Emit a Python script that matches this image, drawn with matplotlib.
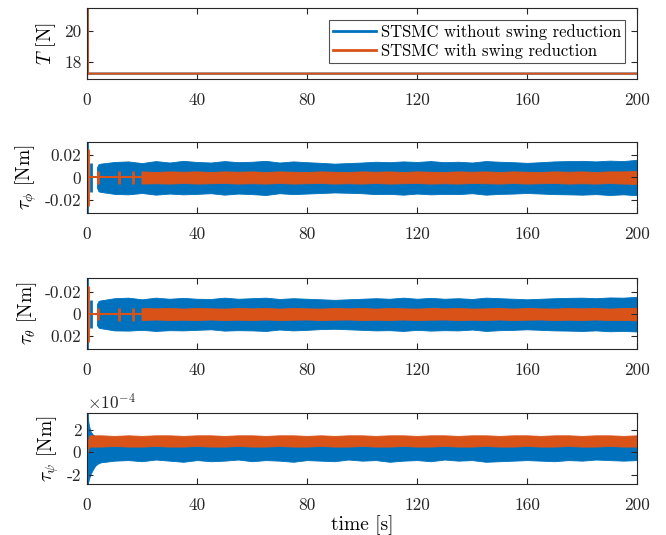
import matplotlib
matplotlib.use("Agg")
import matplotlib.pyplot as plt
import numpy as np

plt.rcParams['font.family'] = ['cmr10', 'DejaVu Serif']
plt.rcParams['mathtext.fontset'] = 'cm'
plt.rcParams['axes.unicode_minus'] = False
plt.rcParams['axes.formatter.use_mathtext'] = True

BLUE = '#0072BD'
ORANGE = '#D95319'

# ---------------- data ----------------
# Panel 1: thrust T [N]
t_T = [0, 0.15, 0.35, 200]
T_without = [16.95, 21.5, 17.25, 17.25]
T_with = [16.95, 21.5, 17.25, 17.25]

# common envelope time grid (s)
t_env = [5, 10, 15, 20, 25, 30, 35, 40, 45, 50, 55, 60, 65, 70, 75, 80, 85, 90, 95, 100,
         105, 110, 115, 120, 125, 130, 135, 140, 145, 150, 155, 160, 165, 170, 175, 180,
         185, 190, 195, 200]

# Panel 2: tau_phi [Nm]
phi_blue_t = [3.6, 4.2] + t_env
phi_blue_hi = [0.009, 0.012, 0.0125, 0.014, 0.0145, 0.013, 0.0148, 0.0135, 0.015, 0.014, 0.0135,
               0.0148, 0.0138, 0.0142, 0.015, 0.0135, 0.0145, 0.0138, 0.0132, 0.0125, 0.013,
               0.0135, 0.0142, 0.0138, 0.0145, 0.014, 0.0148, 0.0138, 0.0142, 0.0135, 0.0148,
               0.0142, 0.0138, 0.0132, 0.0138, 0.0145, 0.0148, 0.015, 0.0145, 0.0152, 0.0148, 0.016]
phi_blue_lo = [-0.009, -0.0125, -0.013, -0.0148, -0.0152, -0.014, -0.0155, -0.0145, -0.0152, -0.0148,
               -0.0142, -0.0155, -0.0145, -0.015, -0.0158, -0.0142, -0.015, -0.0145, -0.014, -0.0135,
               -0.0138, -0.0142, -0.015, -0.0148, -0.0155, -0.0145, -0.0152, -0.0148, -0.015, -0.0142,
               -0.0155, -0.0148, -0.0145, -0.014, -0.0145, -0.015, -0.0152, -0.0155, -0.015, -0.0158,
               -0.0152, -0.016]
phi_blue_spk_t = [0.1, 1.6]
phi_blue_spk_lo = [-0.034, -0.013]
phi_blue_spk_hi = [0.034, 0.013]
phi_or_base_t = [0, 20]
phi_or_base = [0, 0]
phi_or_spk_t = [0.3, 4.0, 11.6, 16.6]
phi_or_spk_lo = [-0.026, -0.0055, -0.006, -0.006]
phi_or_spk_hi = [0.026, 0.0055, 0.0055, 0.0055]
phi_or_t = [19.8] + t_env[3:]
phi_or_hi = [0.005, 0.0055, 0.005, 0.0055, 0.0052, 0.0055, 0.005, 0.0055, 0.0052, 0.0055, 0.005,
             0.0055, 0.0052, 0.005, 0.0055, 0.0052, 0.005, 0.0055, 0.0052, 0.0055, 0.005, 0.0055,
             0.0052, 0.005, 0.0055, 0.0052, 0.0055, 0.005, 0.0055, 0.0052, 0.005, 0.0055, 0.0052,
             0.0055, 0.005, 0.0055, 0.0055, 0.0058]
phi_or_lo = [-0.005, -0.0055, -0.0052, -0.0055, -0.005, -0.0055, -0.0052, -0.005, -0.0055, -0.0052,
             -0.0055, -0.005, -0.0055, -0.0052, -0.005, -0.0055, -0.0052, -0.0055, -0.005, -0.0055,
             -0.0052, -0.005, -0.0055, -0.0052, -0.0055, -0.005, -0.0052, -0.0055, -0.005, -0.0055,
             -0.0052, -0.005, -0.0055, -0.0052, -0.0055, -0.005, -0.0055, -0.0058]

# Panel 3: tau_theta [Nm] (axis reversed)
th_blue_t = [3.6, 4.2] + t_env
th_blue_hi = [0.010, 0.0125, 0.013, 0.015, 0.0152, 0.0145, 0.0155, 0.0148, 0.015, 0.0145, 0.014,
              0.0152, 0.0148, 0.015, 0.0155, 0.0142, 0.015, 0.0145, 0.0138, 0.0135, 0.014, 0.0145,
              0.015, 0.0148, 0.0155, 0.0145, 0.0152, 0.0148, 0.015, 0.0142, 0.0155, 0.0148, 0.0145,
              0.014, 0.0145, 0.015, 0.0152, 0.0155, 0.015, 0.0158, 0.0155, 0.016]
th_blue_lo = [-0.009, -0.012, -0.0125, -0.0145, -0.015, -0.0135, -0.015, -0.014, -0.0148, -0.014,
              -0.0138, -0.015, -0.014, -0.0145, -0.015, -0.0138, -0.0145, -0.014, -0.0135, -0.013,
              -0.0135, -0.014, -0.0145, -0.014, -0.015, -0.014, -0.0148, -0.014, -0.0145, -0.0138,
              -0.015, -0.0145, -0.014, -0.0135, -0.014, -0.0145, -0.0148, -0.015, -0.0145, -0.0152,
              -0.015, -0.0158]
th_blue_spk_t = [0.1, 1.6]
th_blue_spk_lo = [-0.034, -0.013]
th_blue_spk_hi = [0.034, 0.013]
th_or_base_t = [0, 20]
th_or_base = [0, 0]
th_or_spk_t = [0.3, 4.0, 11.6, 16.6]
th_or_spk_lo = [-0.026, -0.0055, -0.0055, -0.0055]
th_or_spk_hi = [0.026, 0.0055, 0.006, 0.006]
th_or_t = [19.8] + t_env[3:]
th_or_hi = phi_or_hi[:]
th_or_lo = phi_or_lo[:]

# Panel 4: tau_psi [Nm], in units of 1e-4
psi_blue_t = [0.3, 0.7, 1.2, 2.0, 3.0, 4.0] + t_env
psi_blue_hi = [3.0, 2.4, 1.9, 1.6, 1.4, 0.8, 0.6, 0.6, 0.6, 0.6, 0.6, 0.6, 0.6, 0.6, 0.6, 0.6, 0.6,
               0.6, 0.6, 0.6, 0.6, 0.6, 0.6, 0.6, 0.6, 0.6, 0.6, 0.6, 0.6, 0.6, 0.6, 0.6, 0.6, 0.6,
               0.6, 0.6, 0.6, 0.6, 0.6, 0.6, 0.6, 0.6, 0.6, 0.6, 0.6, 0.6]
psi_blue_lo = [-2.8, -2.4, -2.0, -1.6, -1.2, -1.0, -0.9, -0.75, -0.7, -0.8, -0.65, -0.75, -0.85, -0.7,
               -0.8, -0.75, -0.65, -0.8, -0.7, -0.75, -0.85, -0.7, -0.75, -0.8, -0.65, -0.75, -0.7,
               -0.85, -0.75, -0.7, -0.8, -0.65, -0.75, -0.7, -0.85, -0.8, -0.75, -0.7, -0.75, -0.8,
               -0.7, -0.75, -0.65, -0.7, -0.75, -0.7]
psi_blue_spk_t = [0.15]
psi_blue_spk_lo = [-2.9]
psi_blue_spk_hi = [3.5]
psi_or_t = [0.4, 1.0] + t_env
psi_or_hi = [1.3, 1.5, 1.5, 1.45, 1.5, 1.45, 1.5, 1.5, 1.45, 1.5, 1.5, 1.45, 1.5, 1.5, 1.45, 1.5,
             1.5, 1.45, 1.5, 1.45, 1.5, 1.5, 1.45, 1.5, 1.5, 1.45, 1.5, 1.5, 1.45, 1.5, 1.5, 1.45,
             1.5, 1.5, 1.45, 1.5, 1.5, 1.45, 1.5, 1.5, 1.45, 1.5]
psi_or_lo = [0.3, 0.5, 0.5, 0.55, 0.5, 0.5, 0.55, 0.5, 0.5, 0.55, 0.5, 0.5, 0.55, 0.5, 0.5, 0.55,
             0.5, 0.5, 0.55, 0.5, 0.5, 0.55, 0.5, 0.5, 0.55, 0.5, 0.5, 0.55, 0.5, 0.5, 0.55, 0.5,
             0.5, 0.55, 0.5, 0.5, 0.55, 0.5, 0.5, 0.55, 0.5, 0.5]
psi_or_spk_t = [0.15]
psi_or_spk_lo = [0.0]
psi_or_spk_hi = [1.2]

x_ticks = [0, 40, 80, 120, 160, 200]
labels = ['STSMC without swing reduction', 'STSMC with swing reduction']

# ---------------- figure ----------------
fig = plt.figure(figsize=(6.66, 5.35), dpi=100)
L, W = 0.1306, 0.826
bottoms = [0.8523, 0.6019, 0.3477, 0.0947]
H = 0.1327
axes = [fig.add_axes([L, b, W, H]) for b in bottoms]

def style(ax):
    ax.set_xlim(0, 200)
    ax.set_xticks(x_ticks)
    ax.set_xticklabels([str(v) for v in x_ticks])
    ax.tick_params(direction='in', top=True, right=True, length=4, width=0.8,
                   labelsize=12.5, colors='0.15')
    ax.tick_params(axis='x', pad=9.5)
    ax.tick_params(axis='y', pad=4)
    for s in ax.spines.values():
        s.set_color('0.15')
        s.set_linewidth(0.8)

lw = 1.5
YL = 14
# Panel 1
ax = axes[0]
ax.plot(t_T, T_without, color=BLUE, lw=lw, label=labels[0])
ax.plot(t_T, T_with, color=ORANGE, lw=lw, label=labels[1])
ax.set_ylim(16.9, 21.5)
ax.set_yticks([18, 20])
ax.set_yticklabels(['18', '20'])
ax.set_ylabel(r'$T$ [N]', fontsize=YL)
style(ax)
leg = ax.legend(loc='upper right', fontsize=12, frameon=True, fancybox=False,
                edgecolor='0.15', handlelength=2.6, borderpad=0.25, labelspacing=0.2,
                handletextpad=0.3, borderaxespad=0.7)
leg.get_frame().set_linewidth(0.8)
for h in leg.get_lines():
    h.set_linewidth(2.0)

def band_panel(ax, bt, bhi, blo, bst, bslo, bshi, ot, ohi, olo, ost, oslo, oshi,
               obt=None, ob=None):
    ax.fill_between(bt, blo, bhi, color=BLUE, lw=0.6, edgecolor=BLUE)
    ax.vlines(bst, bslo, bshi, color=BLUE, lw=2.0)
    if obt is not None:
        ax.plot(obt, ob, color=ORANGE, lw=lw)
    ax.fill_between(ot, olo, ohi, color=ORANGE, lw=0.6, edgecolor=ORANGE)
    ax.vlines(ost, oslo, oshi, color=ORANGE, lw=2.0)

# Panel 2
ax = axes[1]
band_panel(ax, phi_blue_t, phi_blue_hi, phi_blue_lo, phi_blue_spk_t, phi_blue_spk_lo, phi_blue_spk_hi,
           phi_or_t, phi_or_hi, phi_or_lo, phi_or_spk_t, phi_or_spk_lo, phi_or_spk_hi,
           phi_or_base_t, phi_or_base)
ax.set_ylim(-0.032, 0.032)
ax.set_yticks([-0.02, 0, 0.02])
ax.set_yticklabels(['-0.02', '0', '0.02'])
ax.set_ylabel(r'$\tau_\phi$ [Nm]', fontsize=YL)
style(ax)

# Panel 3
ax = axes[2]
band_panel(ax, th_blue_t, th_blue_hi, th_blue_lo, th_blue_spk_t, th_blue_spk_lo, th_blue_spk_hi,
           th_or_t, th_or_hi, th_or_lo, th_or_spk_t, th_or_spk_lo, th_or_spk_hi,
           th_or_base_t, th_or_base)
ax.set_ylim(0.032, -0.033)
ax.set_yticks([-0.02, 0, 0.02])
ax.set_yticklabels(['-0.02', '0', '0.02'])
ax.set_ylabel(r'$\tau_\theta$ [Nm]', fontsize=YL)
style(ax)

# Panel 4
ax = axes[3]
band_panel(ax, psi_blue_t, psi_blue_hi, psi_blue_lo, psi_blue_spk_t, psi_blue_spk_lo, psi_blue_spk_hi,
           psi_or_t, psi_or_hi, psi_or_lo, psi_or_spk_t, psi_or_spk_lo, psi_or_spk_hi)
ax.set_ylim(-2.85, 3.45)
ax.set_yticks([-2, 0, 2])
ax.set_yticklabels(['-2', '0', '2'])
ax.set_ylabel(r'$\tau_\psi$ [Nm]', fontsize=YL)
ax.set_xlabel('time [s]', fontsize=14, labelpad=2)
ax.text(0.0, 1.01, r'$\times 10^{-4}$', transform=ax.transAxes, fontsize=12.5,
        ha='left', va='bottom', color='0.15')
style(ax)

fig.savefig('out.png', dpi=100)
